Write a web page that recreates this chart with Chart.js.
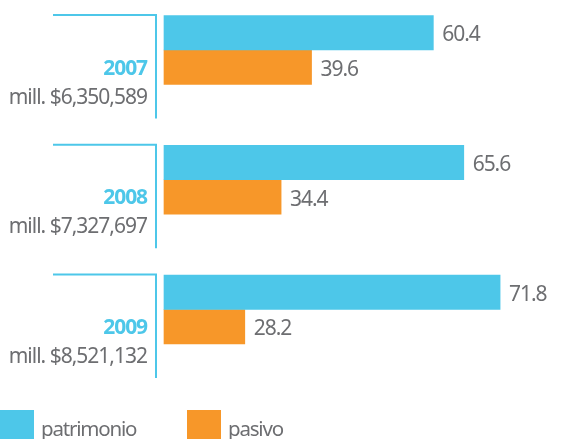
<!DOCTYPE html>
<html>
<head>
<meta charset="utf-8">
<script src="https://cdn.jsdelivr.net/npm/chart.js@4/dist/chart.umd.min.js"></script>
<style>
  html, body { margin: 0; padding: 0; background: #ffffff; }
  #wrap { position: relative; width: 561px; height: 439px; }
</style>
</head>
<body>
<div id="wrap"><canvas id="c" width="561" height="439"></canvas></div>
<script>
// Composition of funding by year (percent of total)
const years = ['2007', '2008', '2009'];
const totals = ['mill. $6,350,589', 'mill. $7,327,697', 'mill. $8,521,132'];
const patrimonio = [60.4, 65.6, 71.8];
const pasivo = [39.6, 34.4, 28.2];
const seriesNames = ['patrimonio', 'pasivo'];

// value axis range (bars grow from AXIS_MIN)
const AXIS_MIN = 14.4;
const AXIS_MAX = 75.2;

const BLUE = '#4dc7e9';
const ORANGE = '#f79729';
const GRAY = '#6d6e71';
const FONT = '"Noto Sans", "Open Sans", sans-serif';

function setText(ctx, size, weight, spacing) {
  ctx.font = weight + ' ' + size + 'px ' + FONT;
  if ('letterSpacing' in ctx) ctx.letterSpacing = spacing + 'px';
}

// Year headings, totals, brackets, value labels and legend
const annotations = {
  id: 'annotations',
  afterDatasetsDraw(chart) {
    const ctx = chart.ctx;
    const y = chart.scales.y;
    const half = 34.5;
    ctx.save();
    years.forEach((yr, i) => {
      const cy = y.getPixelForValue(i);
      // bracket
      ctx.strokeStyle = BLUE;
      ctx.lineWidth = 2;
      ctx.beginPath();
      ctx.moveTo(53, cy - half - 0.5);
      ctx.lineTo(156, cy - half - 0.5);
      ctx.lineTo(156, cy + 68.5);
      ctx.stroke();
      // year
      ctx.textAlign = 'right';
      ctx.textBaseline = 'alphabetic';
      setText(ctx, 21, 'bold', -1.1);
      ctx.fillStyle = BLUE;
      ctx.fillText(yr, 147, cy + 24.5);
      // total
      setText(ctx, 21, 'normal', -1.0);
      ctx.fillStyle = GRAY;
      ctx.fillText(totals[i], 147, cy + 53.5);
    });
    // value labels at bar ends
    ctx.textAlign = 'left';
    setText(ctx, 21, 'normal', -1.1);
    ctx.fillStyle = GRAY;
    chart.data.datasets.forEach((ds, di) => {
      chart.getDatasetMeta(di).data.forEach((bar, i) => {
        ctx.fillText(ds.data[i].toFixed(1), bar.x + 9, bar.y + 8.5);
      });
    });
    // legend
    const legendX = [0, 187];
    chart.data.datasets.forEach((ds, di) => {
      const x = legendX[di];
      ctx.fillStyle = ds.backgroundColor;
      ctx.fillRect(x, 410, 34, 30);
      setText(ctx, 20.5, 'normal', -1.2);
      ctx.fillStyle = GRAY;
      ctx.fillText(ds.label, x + 41, 436);
    });
    ctx.restore();
  }
};

new Chart(document.getElementById('c'), {
  type: 'bar',
  data: {
    labels: years,
    datasets: [
      { label: seriesNames[0], data: patrimonio, backgroundColor: BLUE, barThickness: 34.5, base: AXIS_MIN, clip: false },
      { label: seriesNames[1], data: pasivo, backgroundColor: ORANGE, barThickness: 34.5, base: AXIS_MIN, clip: false }
    ]
  },
  options: {
    indexAxis: 'y',
    responsive: false,
    animation: false,
    events: [],
    layout: { padding: { left: 164, right: 41, top: 50, bottom: 129.5 } },
    scales: {
      x: { type: 'linear', min: AXIS_MIN, max: AXIS_MAX, display: false },
      y: { type: 'category', offset: false, display: false }
    },
    plugins: {
      legend: { display: false },
      tooltip: { enabled: false }
    }
  },
  plugins: [annotations]
});
</script>
</body>
</html>
